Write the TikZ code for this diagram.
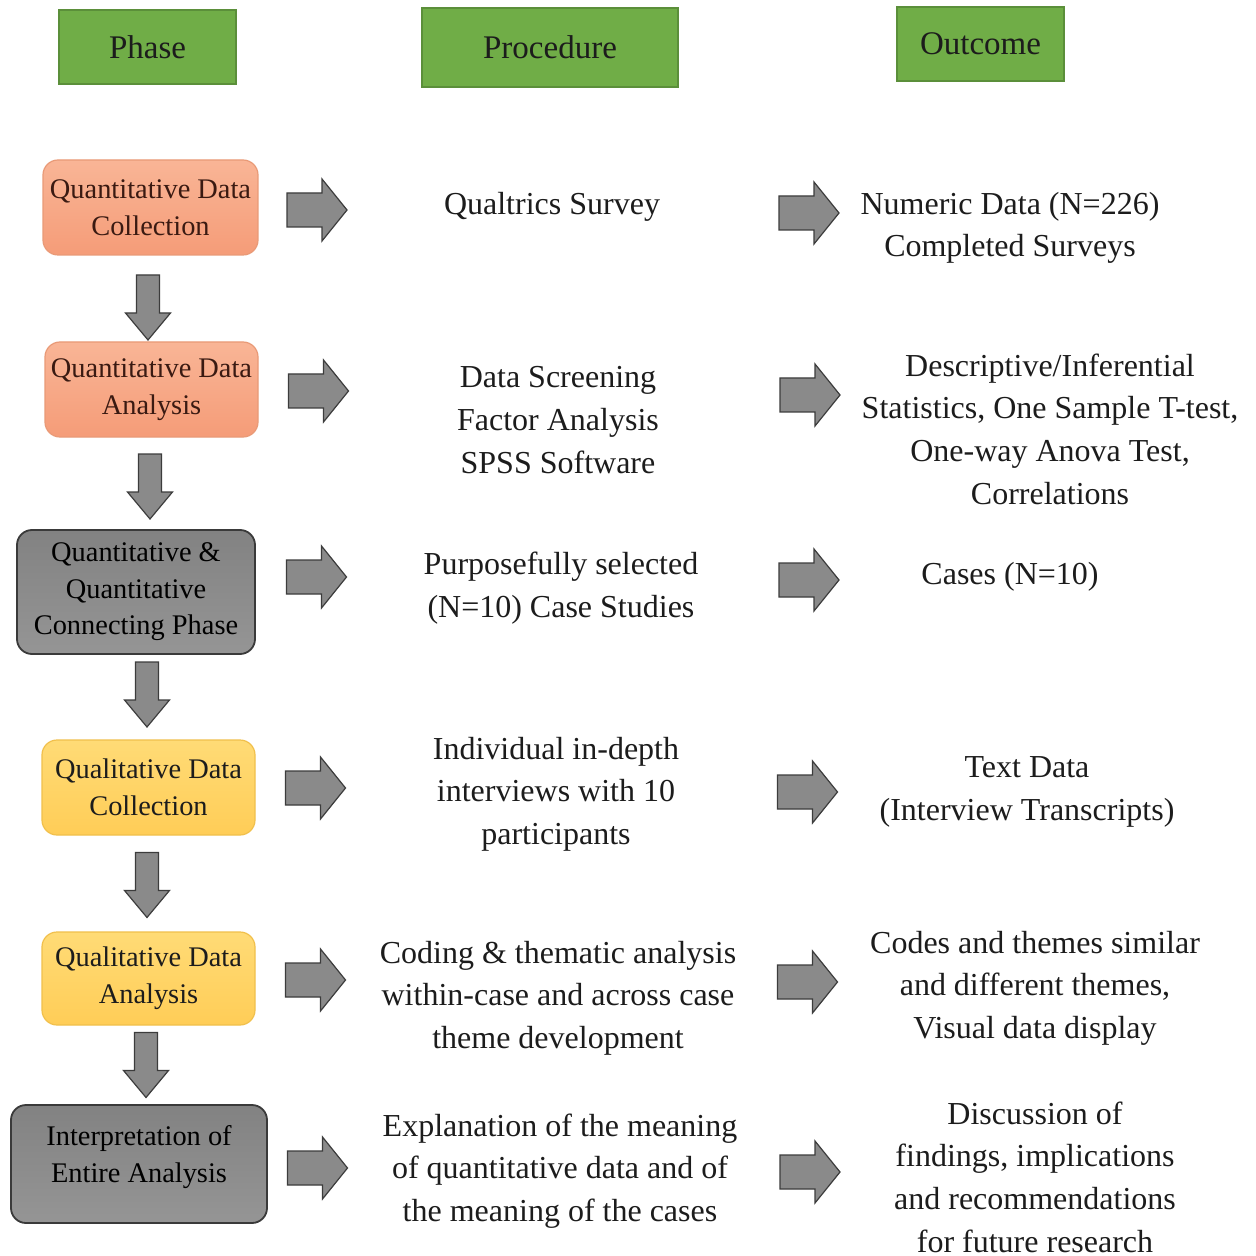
\documentclass[tikz,border=0pt]{standalone}
\usepackage{fontspec}
\setmainfont{LiberationSerif}[Extension=.ttf, UprightFont=*-Regular, BoldFont=*-Bold, ItalicFont=*-Italic, BoldItalicFont=*-BoldItalic]
\definecolor{hdrgreen}{HTML}{70AD47}
\definecolor{hdredge}{HTML}{5B8F3A}
\definecolor{salmtop}{HTML}{F9B596}
\definecolor{salmbot}{HTML}{F59C78}
\definecolor{salmedge}{HTML}{E99A77}
\definecolor{graytop}{HTML}{828282}
\definecolor{graybot}{HTML}{959595}
\definecolor{grayedge}{HTML}{3A3A3A}
\definecolor{yeltop}{HTML}{FFDB76}
\definecolor{yelbot}{HTML}{FFCD57}
\definecolor{yeledge}{HTML}{F1C04C}
\definecolor{arrfill}{HTML}{8A8A8A}
\definecolor{arredge}{HTML}{3C3C3C}
\definecolor{inktext}{HTML}{1C1C1C}
\definecolor{browntext}{HTML}{3A1A12}
\tikzset{
  hdr/.style={draw=hdredge, fill=hdrgreen, line width=0.6pt, inner sep=0pt,
    font=\fontsize{16.5pt}{20pt}\selectfont, text=inktext},
  phasebox/.style={rounded corners=7.5pt, line width=0.6pt, inner sep=0pt, align=center,
    font=\fontsize{14.2pt}{18.3pt}\selectfont},
  salmonbox/.style={phasebox, draw=salmedge, top color=salmtop, bottom color=salmbot, text=browntext},
  graybox/.style={phasebox, draw=grayedge, line width=0.9pt, top color=graytop, bottom color=graybot, text=black},
  yellowbox/.style={phasebox, draw=yeledge, top color=yeltop, bottom color=yelbot, text=inktext},
  bodytext/.style={align=center, inner sep=0pt, text=inktext,
    font=\fontsize{16pt}{21.3pt}\selectfont},
  blockarrow/.style={fill=arrfill, draw=arredge, line width=0.6pt, line join=miter},
  rarr/.pic={\path[blockarrow] (-30,-17)--(5,-17)--(5,-31)--(30,0)--(5,31)--(5,17)--(-30,17)--cycle;},
  darr/.pic={\path[blockarrow] (-11.5,-32.5)--(11.5,-32.5)--(11.5,5.5)--(22.5,5.5)--(0,32.5)--(-22.5,5.5)--(-11.5,5.5)--cycle;}
}
\begin{document}
\begin{tikzpicture}[x=0.5pt,y=-0.5pt]
\useasboundingbox[fill=white] (0,0) rectangle (1255,1256);

% headers
\node[hdr, minimum width=88.5pt, minimum height=37pt] (hphase) at (147.5,47) {Phase};
\node[hdr, minimum width=128pt, minimum height=39.5pt] (hproc) at (550,47.5) {Procedure};
\node[hdr, minimum width=83.5pt, minimum height=37pt] (hout) at (980.5,44) {Outcome};

% phase boxes
\node[salmonbox, minimum width=107.5pt, minimum height=47.5pt] (p1) at (150.5,207.5) {Quantitative Data\\Collection};
\node[salmonbox, minimum width=106.5pt, minimum height=47.5pt] (p2) at (151.5,389.5) {Quantitative Data\\Analysis};
\node[graybox, minimum width=119pt, minimum height=62pt] (p3) at (136,592) {Quantitative \&\\Quantitative\\Connecting Phase};
\node[yellowbox, minimum width=106.5pt, minimum height=47.5pt] (p4) at (148.5,787.5) {Qualitative Data\\Collection};
\node[yellowbox, minimum width=106.5pt, minimum height=46.5pt] (p5) at (148.5,978.5) {Qualitative Data\\Analysis};
\node[graybox, minimum width=128pt, minimum height=59pt] (p6) at (139,1164) {};
\node[bodytext, font=\fontsize{14.2pt}{18.3pt}\selectfont, text=black] (p6t) at (139,1157) {Interpretation of\\Entire Analysis};

% down arrows
\pic at (148,307.5) {darr};
\pic at (150,486.5) {darr};
\pic at (147,694.5) {darr};
\pic at (147,885) {darr};
\pic at (146,1065) {darr};

% right arrows, column 1
\pic at (317,210) {rarr};
\pic at (318.5,391) {rarr};
\pic at (316.5,577) {rarr};
\pic at (315.5,788) {rarr};
\pic at (315.5,980) {rarr};
\pic at (317.5,1168) {rarr};

% right arrows, column 2
\pic at (809,213) {rarr};
\pic at (810,395) {rarr};
\pic at (809,580) {rarr};
\pic at (807.5,792) {rarr};
\pic at (807.5,982) {rarr};
\pic at (810,1172) {rarr};

% procedure texts
\node[bodytext] (r1) at (552,207) {Qualtrics Survey};
\node[bodytext] (r2) at (558,420) {Data Screening\\Factor Analysis\\SPSS Software};
\node[bodytext] (r3) at (561,588) {Purposefully selected\\(N=10) Case Studies};
\node[bodytext] (r4) at (556,794) {Individual in-depth\\interviews with 10\\participants};
\node[bodytext] (r5) at (558,998) {Coding \& thematic analysis\\within-case and across case\\theme development};
\node[bodytext] (r6) at (560,1171) {Explanation of the meaning\\of quantitative data and of\\the meaning of the cases};

% outcome texts
\node[bodytext] (o1) at (1010,228) {Numeric Data (N=226)\\Completed Surveys};
\node[bodytext] (o2) at (1050,429) {Descriptive/Inferential\\Statistics, One Sample T-test,\\One-way Anova Test,\\Correlations};
\node[bodytext] (o3) at (1010,577) {Cases (N=10)};
\node[bodytext] (o4) at (1027,792) {Text Data\\(Interview Transcripts)};
\node[bodytext] (o5) at (1035,988) {Codes and themes similar\\and different themes,\\Visual data display};
\node[bodytext] (o6) at (1035,1177) {Discussion of\\findings, implications\\and recommendations\\for future research};
\end{tikzpicture}
\end{document}
